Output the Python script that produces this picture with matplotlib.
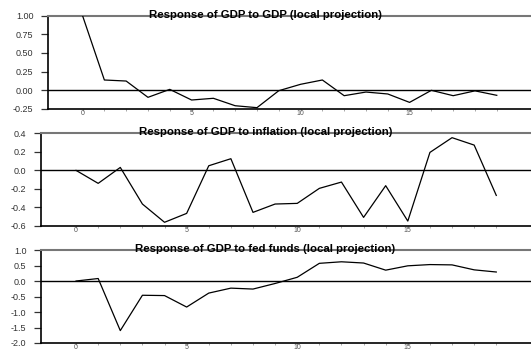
import numpy as np
import matplotlib
matplotlib.use("Agg")
import matplotlib.pyplot as plt
from matplotlib import transforms

plt.rcParams['font.family'] = ['Liberation Sans', 'DejaVu Sans']

horizon = list(range(20))

gdp_to_gdp = [1.00, 0.136, 0.122, -0.097, 0.01, -0.133, -0.11, -0.21, -0.236, -0.008,
              0.078, 0.136, -0.075, -0.026, -0.052, -0.165, -0.003, -0.075, -0.01, -0.07]
gdp_to_infl = [0.0, -0.14, 0.032, -0.363, -0.56, -0.464, 0.05, 0.126, -0.453, -0.363,
               -0.356, -0.194, -0.126, -0.507, -0.165, -0.547, 0.194, 0.353, 0.273, -0.27]
gdp_to_ff = [0.0, 0.08, -1.6, -0.46, -0.47, -0.84, -0.39, -0.23, -0.26, -0.08,
             0.12, 0.57, 0.62, 0.58, 0.35, 0.49, 0.53, 0.52, 0.36, 0.29]

titles = ["Response of GDP to GDP (local projection)",
          "Response of GDP to inflation (local projection)",
          "Response of GDP to fed funds (local projection)"]
yticks = [[1.00, 0.75, 0.50, 0.25, 0.00, -0.25],
          [0.4, 0.2, 0.0, -0.2, -0.4, -0.6],
          [1.0, 0.5, 0.0, -0.5, -1.0, -1.5, -2.0]]
yfmt = ["{:.2f}", "{:.1f}", "{:.1f}"]
series = [gdp_to_gdp, gdp_to_infl, gdp_to_ff]

# axes boxes in figure fraction (left, bottom, width, height)
boxes = [[0.0898, 0.6894, 0.9102, 0.2657],
         [0.0766, 0.3543, 0.9234, 0.2648],
         [0.0766, 0.0200, 0.9234, 0.2657]]

fig = plt.figure(figsize=(5.31, 3.5), dpi=100)

for box, y, title, yt, fmt in zip(boxes, series, titles, yticks, yfmt):
    ax = fig.add_axes(box)
    ax.plot(horizon, y, color='black', lw=0.9, zorder=3)
    ax.axhline(0, color='black', lw=1.0, zorder=2)
    ax.set_xlim(-1.6, 20.57)
    ax.set_ylim(min(yt), max(yt))
    ax.set_yticks(yt)
    ax.set_yticklabels([fmt.format(v) for v in yt])
    ax.set_xticks(horizon)
    ax.set_xticklabels([str(h) if h % 5 == 0 else "" for h in horizon])
    ax.tick_params(axis='y', length=5, width=0.9, color='#333333',
                   labelsize=6.5, labelcolor='#333333', pad=5.2)
    ax.tick_params(axis='x', length=1.5, width=0.6, color='#999999',
                   labelsize=5, labelcolor='#555555', pad=-0.5)
    ax.spines['right'].set_visible(False)
    ax.spines['top'].set_color('#777777')
    ax.spines['top'].set_linewidth(1.5)
    ax.spines['left'].set_linewidth(1.2)
    ax.spines['bottom'].set_linewidth(1.2)
    top_y = box[1] + box[3]
    trans = transforms.offset_copy(fig.transFigure, fig=fig, x=0, y=-1.8, units='dots')
    fig.text(0.5, top_y, title, transform=trans, ha='center', va='baseline',
             fontsize=8.2, fontweight='bold', zorder=5)

fig.savefig("out.png", dpi=100)
